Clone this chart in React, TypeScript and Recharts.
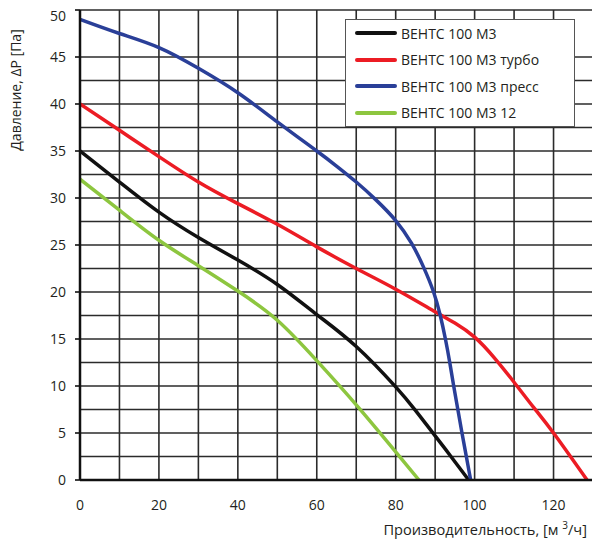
import React from "react";
import { LineChart, Line, XAxis, YAxis, CartesianGrid, Label } from "recharts";

const seriesNames = ["ВЕНТС 100 М3", "ВЕНТС 100 М3 турбо", "ВЕНТС 100 М3 пресс", "ВЕНТС 100 М3 12"];
const seriesColors = ["#111111", "#ec1c24", "#2a3f98", "#8dc63f"];

const blackX = [0, 10, 20, 30, 40, 50, 60, 70, 80, 85, 90, 94, 98.5];
const blackY = [35, 31.7, 28.5, 25.8, 23.4, 20.8, 17.6, 14.2, 9.9, 7.4, 4.7, 2.5, 0];

const redX = [0, 10, 20, 30, 40, 50, 60, 70, 80, 90, 95, 100, 105, 110, 115, 120, 128.5];
const redY = [40, 37.2, 34.4, 31.7, 29.4, 27.2, 24.8, 22.5, 20.3, 17.9, 16.7, 15.2, 13.0, 10.4, 7.7, 5.0, 0];

const blueX = [0, 10, 20, 30, 40, 50, 60, 65, 70, 75, 80, 84, 87, 89.6, 91.3, 92.6, 93.7, 94.7, 95.75, 96.8, 97.9, 99];
const blueY = [49, 47.5, 46, 43.8, 41.2, 38.1, 35, 33.4, 31.7, 29.8, 27.6, 25.2, 22.7, 20, 17.5, 15, 12.5, 10, 7.5, 5, 2.5, 0];

const greenX = [0, 10, 20, 30, 40, 50, 60, 70, 80, 85.9];
const greenY = [32, 28.7, 25.5, 22.8, 20.1, 17.0, 12.7, 8.0, 3.0, 0];

const xTicks = [0, 20, 40, 60, 80, 100, 120];
const yTicks = [0, 5, 10, 15, 20, 25, 30, 35, 40, 45, 50];
const xGrid = [0, 10, 20, 30, 40, 50, 60, 70, 80, 90, 100, 110, 120, 130];
const yGrid = [0, 2.5, 5, 7.5, 10, 12.5, 15, 17.5, 20, 22.5, 25, 27.5, 30, 32.5, 35, 37.5, 40, 42.5, 45, 47.5, 50];

const xLabel = "Производительность, [м ";
const xLabelSup = "3";
const xLabelEnd = "/ч]";
const yLabel = "Давление, ΔP [Па]";

const toPoints = (xs: number[], ys: number[]) => xs.map((x, i) => ({ x, y: ys[i] }));
const seriesData = [
  toPoints(blackX, blackY),
  toPoints(redX, redY),
  toPoints(blueX, blueY),
  toPoints(greenX, greenY),
];

const FONT = "'Open Sans', sans-serif";
const TEXT = "#231f20";

const LegendBox = () => (
  <div
    style={{
      position: "absolute",
      left: 337,
      top: 11,
      border: "1px solid #555",
      background: "#fff",
      width: 228,
      fontFamily: FONT,
      fontSize: 14,
      color: TEXT,
    }}
  >
    {seriesNames.map((n, i) => (
      <div key={n} style={{ height: 26.5, display: "flex", alignItems: "center" }}>
        <div style={{ width: 42, height: 4, background: seriesColors[i], marginLeft: 9, borderRadius: 2 }} />
        <span style={{ marginLeft: 4, whiteSpace: "nowrap" }}>{n}</span>
      </div>
    ))}
  </div>
);

export default function App() {
  return (
    <div style={{ position: "relative", width: 592, height: 538 }}>
      <LineChart width={592} height={538} margin={{ top: 2, right: 7, bottom: 0, left: 0 }}>
        <CartesianGrid
          horizontalValues={yGrid}
          verticalValues={xGrid}
          stroke="#2b2b2b"
          strokeWidth={1.6}
        />
        <XAxis
          type="number"
          dataKey="x"
          domain={[0, 130]}
          ticks={xTicks}
          allowDataOverflow
          height={66}
          tickLine={false}
          tickSize={5}
          tickMargin={15}
          axisLine={{ stroke: "#111", strokeWidth: 2.5 }}
          tick={{ fill: TEXT, fontSize: 14, fontFamily: FONT }}
        >
          <Label
            content={(props: any) => {
              const vb = props.viewBox || { x: 72, y: 472, width: 513, height: 66 };
              return (
                <text
                  x={vb.x + vb.width - 6}
                  y={vb.y + 55}
                  textAnchor="end"
                  fill={TEXT}
                  fontSize={14.6}
                  fontFamily={FONT}
                >
                  {xLabel}
                  <tspan fontSize={10} dy={-6}>{xLabelSup}</tspan>
                  <tspan dy={6}>{xLabelEnd}</tspan>
                </text>
              );
            }}
          />
        </XAxis>
        <YAxis
          type="number"
          domain={[0, 50]}
          ticks={yTicks}
          allowDataOverflow
          width={72}
          tickSize={5}
          tickMargin={9}
          tickLine={{ stroke: "#111", strokeWidth: 1.6 }}
          axisLine={{ stroke: "#111", strokeWidth: 2.5 }}
          tick={{ fill: TEXT, fontSize: 14, fontFamily: FONT }}
        >
          <Label
            content={(props: any) => {
              const vb = props.viewBox || { x: 0, y: 2, width: 72, height: 470 };
              const cx = vb.x + 13;
              const cy = vb.y + 80;
              return (
                <text
                  x={cx}
                  y={cy}
                  transform={`rotate(-90, ${cx}, ${cy})`}
                  textAnchor="middle"
                  fill={TEXT}
                  fontSize={14}
                  fontFamily={FONT}
                >
                  {yLabel}
                </text>
              );
            }}
          />
        </YAxis>
        {seriesData.map((d, i) => (
          <Line
            key={seriesNames[i]}
            data={d}
            dataKey="y"
            name={seriesNames[i]}
            type="natural"
            stroke={seriesColors[i]}
            strokeWidth={3.5}
            dot={false}
            activeDot={false}
            isAnimationActive={false}
          />
        ))}
      </LineChart>
      <LegendBox />
    </div>
  );
}
